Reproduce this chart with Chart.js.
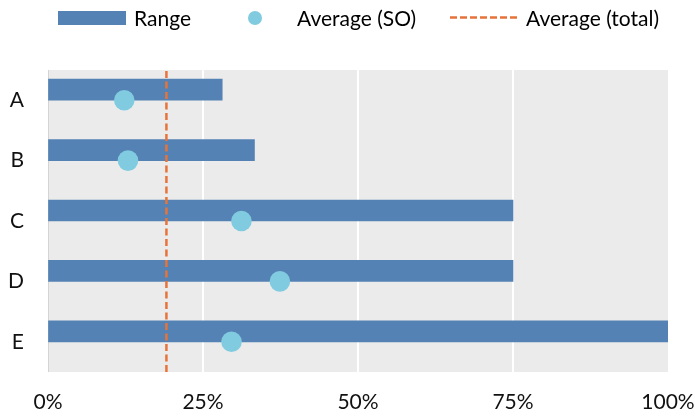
<!DOCTYPE html>
<html>
<head>
<meta charset="utf-8">
<script src="https://cdn.jsdelivr.net/npm/chart.js@4.4.0/dist/chart.umd.min.js"></script>
<style>
  body { margin: 0; background: #fff; }
  #wrap { position: relative; width: 695px; height: 417px; font-family: Lato, sans-serif; }
  #chart { position: absolute; left: 0; top: 0; }
  .lg { position: absolute; font-size: 21px; line-height: 21px; color: #000; white-space: nowrap; }
  .sw-range { position: absolute; left: 58px; top: 11px; width: 68px; height: 14px; background: #5582b4; }
  .sw-dot { position: absolute; left: 248px; top: 11px; width: 14px; height: 14px; border-radius: 50%; background: #80cbe0; }
  .sw-line { position: absolute; left: 450px; top: 12px; }
</style>
</head>
<body>
<div id="wrap">
  <canvas id="chart" width="695" height="417"></canvas>
  <div class="sw-range"></div>
  <div class="lg" style="left:134px; top:7px;">Range</div>
  <div class="sw-dot"></div>
  <div class="lg" style="left:297px; top:7px;">Average (SO)</div>
  <svg class="sw-line" width="70" height="11"><line x1="0" y1="5.5" x2="70" y2="5.5" stroke="#e8733a" stroke-width="2.5" stroke-dasharray="7 3"/></svg>
  <div class="lg" style="left:526px; top:7px;">Average (total)</div>
</div>
<script>
  // datos del grafico
  const categorias = ['A', 'B', 'C', 'D', 'E'];
  const rango = [0.281, 0.333, 0.75, 0.75, 1.0];
  const promedioSO = [0.123, 0.129, 0.312, 0.374, 0.296];
  const promedioTotal = 0.191;
  const ticksX = [0, 0.25, 0.5, 0.75, 1];

  Chart.defaults.font.family = 'Lato, sans-serif';
  Chart.defaults.font.size = 21;
  Chart.defaults.color = '#111';

  // fondo gris del area de trazado
  const fondoPlot = {
    id: 'fondoPlot',
    beforeDraw(chart) {
      const { ctx, chartArea: a } = chart;
      ctx.save();
      ctx.fillStyle = '#ebebeb';
      ctx.fillRect(a.left, a.top, a.right - a.left, a.bottom - a.top);
      ctx.restore();
    }
  };

  const ctx = document.getElementById('chart').getContext('2d');
  new Chart(ctx, {
    type: 'bar',
    data: {
      labels: categorias,
      datasets: [
        {
          type: 'scatter',
          label: 'Average (SO)',
          data: categorias.map((c, i) => ({ x: promedioSO[i], y: c })),
          xAxisID: 'x',
          yAxisID: 'y',
          backgroundColor: '#80cbe0',
          borderWidth: 0,
          pointRadius: 10.3,
          order: 0
        },
        {
          type: 'line',
          label: 'Average (total)',
          data: [{ x: promedioTotal, y: 0 }, { x: promedioTotal, y: 1 }],
          xAxisID: 'x',
          yAxisID: 'yLinea',
          borderColor: '#e8733a',
          borderWidth: 2.5,
          borderDash: [7, 3.5],
          pointRadius: 0,
          fill: false,
          order: 1
        },
        {
          label: 'Range',
          data: rango,
          xAxisID: 'x',
          yAxisID: 'y',
          backgroundColor: '#5582b4',
          barThickness: 21,
          order: 2
        }
      ]
    },
    options: {
      indexAxis: 'y',
      responsive: false,
      animation: false,
      layout: { padding: { top: 70, right: 27, bottom: 0, left: 0 } },
      plugins: {
        legend: { display: false },
        tooltip: { enabled: false }
      },
      scales: {
        x: {
          type: 'linear',
          min: 0,
          max: 1,
          afterBuildTicks: s => { s.ticks = ticksX.map(v => ({ value: v })); },
          afterFit: s => { s.height = 45; s.paddingLeft = 0; s.paddingRight = 0; },
          border: { display: false },
          grid: {
            drawTicks: false,
            lineWidth: c => (c.tick && c.tick.value === 0 ? 1 : 2),
            color: c => {
              if (!c.tick) return 'transparent';
              if (c.tick.value === 0) return '#d4d4d4';
              if (c.tick.value === 1) return 'transparent';
              return '#ffffff';
            }
          },
          ticks: {
            padding: 18,
            color: '#111',
            callback: v => Math.round(v * 100) + '%'
          }
        },
        y: {
          type: 'category',
          offset: true,
          afterFit: s => { s.width = 48; },
          border: { display: false },
          grid: { display: false, drawTicks: false },
          ticks: { padding: 24, color: '#111' }
        },
        yLinea: {
          type: 'linear',
          min: 0,
          max: 1,
          offset: false,
          grid: { offset: false },
          display: false
        }
      }
    },
    plugins: [fondoPlot]
  });
</script>
</body>
</html>
